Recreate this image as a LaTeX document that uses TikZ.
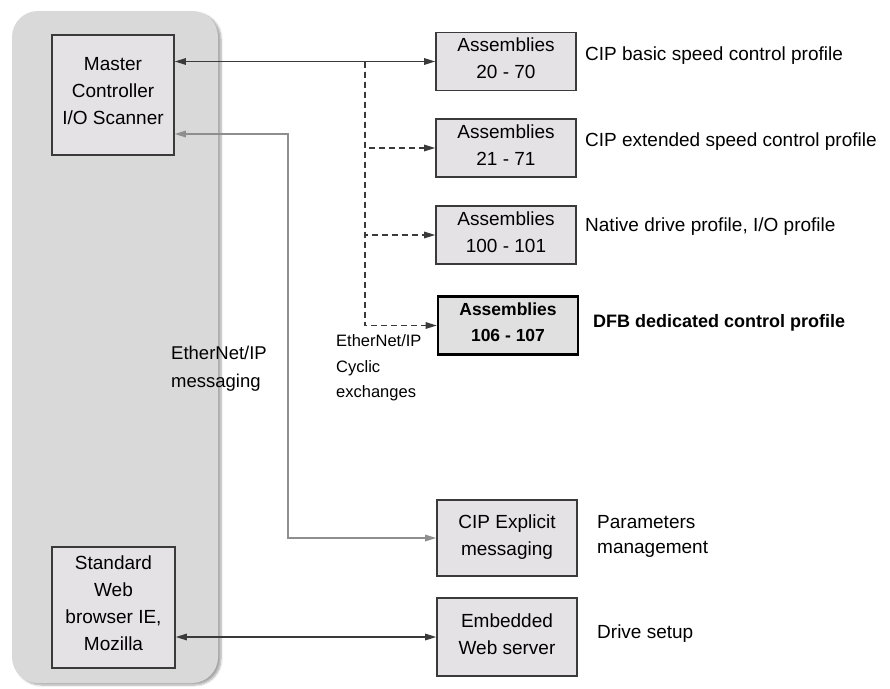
\documentclass[tikz,border=0pt]{standalone}
\usepackage{fontspec}
\setmainfont{Liberation Sans}
\usetikzlibrary{arrows.meta,positioning,shadows.blur}
\definecolor{panelgray}{HTML}{D9D9D9}
\definecolor{boxgray}{HTML}{E4E2E5}
\definecolor{dfbgray}{HTML}{E0E0E0}
\definecolor{wiregray}{HTML}{8E8E8E}
\definecolor{inkgray}{HTML}{3A3A3A}
\tikzset{
  panel/.style={fill=panelgray,rounded corners=26pt,minimum width=206pt,minimum height=672pt,inner sep=0,
    blur shadow={shadow xshift=3pt,shadow yshift=-2pt,shadow blur steps=6,shadow opacity=35}},
  hostbox/.style={draw=inkgray,line width=1.6pt,fill=boxgray,align=center,inner sep=0,
    minimum width=122pt,minimum height=120pt,font=\fontsize{19}{27}\selectfont,
    execute at end node=\rule[-8pt]{0pt}{8pt}},
  asmbox/.style={draw=inkgray,line width=1.6pt,fill=boxgray,align=center,inner sep=0,
    minimum width=140pt,minimum height=58pt,font=\fontsize{19}{27}\selectfont,
    execute at end node=\rule[-6pt]{0pt}{6pt}},
  dfbbox/.style={asmbox,draw=black,line width=2.6pt,fill=dfbgray,font=\fontsize{17.5}{26}\selectfont\bfseries},
  note/.style={anchor=west,align=left,inner sep=0,font=\fontsize{19}{25}\selectfont},
  smallnote/.style={anchor=west,align=left,inner sep=0,font=\fontsize{16.5}{25.5}\selectfont},
  link/.style={draw=inkgray,line width=1.3pt,{Triangle[length=11pt,width=6.5pt]}-{Triangle[length=11pt,width=6.5pt]}},
  cyclic/.style={draw=inkgray,line width=1.3pt,dash pattern=on 6pt off 4pt,-{Triangle[length=11pt,width=6.5pt]}},
  msg/.style={draw=wiregray,line width=1.2pt,{Triangle[length=11pt,width=6.5pt]}-{Triangle[length=11pt,width=6.5pt]}}
}

\begin{document}
\begin{tikzpicture}[x=1pt,y=-1pt]
  \useasboundingbox (0,0) rectangle (890,688);
  \node[panel] (host) at (115,347) {};

  % controller side
  \node[hostbox] (master) at (113,95) {Master\\Controller\\I/O Scanner};
  \node[hostbox,minimum width=123pt,minimum height=121pt] (web) at (113.5,607.5) {Standard\\Web\\browser IE,\\Mozilla};

  % drive side
  \node[asmbox] (asm1) at (506,61.5) {Assemblies\\20 - 70};
  \node[asmbox] (asm2) at (506,148) {Assemblies\\21 - 71};
  \node[asmbox] (asm3) at (506,235) {Assemblies\\100 - 101};
  \node[dfbbox] (asm4) at (508,325.5) {Assemblies\\106 - 107};
  \node[asmbox,minimum height=76pt] (cip) at (507,538) {CIP Explicit\\messaging};
  \node[asmbox,minimum height=78pt] (embedded) at (507,637) {Embedded\\Web server};

  \node[note] (lbl1) at (585,56) {CIP basic speed control profile};
  \node[note] (lbl2) at (585,142) {CIP extended speed control profile};
  \node[note] (lbl3) at (585,227) {Native drive profile, I/O profile};
  \node[note,font=\fontsize{18}{25}\selectfont\bfseries] (lbl4) at (593,323) {DFB dedicated control profile};
  \node[note] (lbl5) at (597,536) {Parameters\\management};
  \node[note] (lbl6) at (597,634) {Drive setup};

  \node[note,font=\fontsize{18.5}{28}\selectfont] (ethmsg) at (171,369) {EtherNet/IP\\messaging};
  \node[smallnote] (ethcyc) at (336,368) {EtherNet/IP\\Cyclic\\exchanges};

  % connectors
  \coordinate (tap) at (365,61.5);
  \coordinate (bend) at (288,134);
  \draw[link] (master.east |- asm1.west) -- (asm1.west);
  \draw[cyclic] (tap) |- (asm2.west);
  \draw[cyclic] (tap) |- (asm3.west);
  \draw[cyclic] (tap) |- (asm4.west);
  \draw[msg] (master.east |- bend) -- (bend) |- (cip.west);
  \draw[link] (web.east |- embedded.west) -- (embedded.west);
\end{tikzpicture}
\end{document}
